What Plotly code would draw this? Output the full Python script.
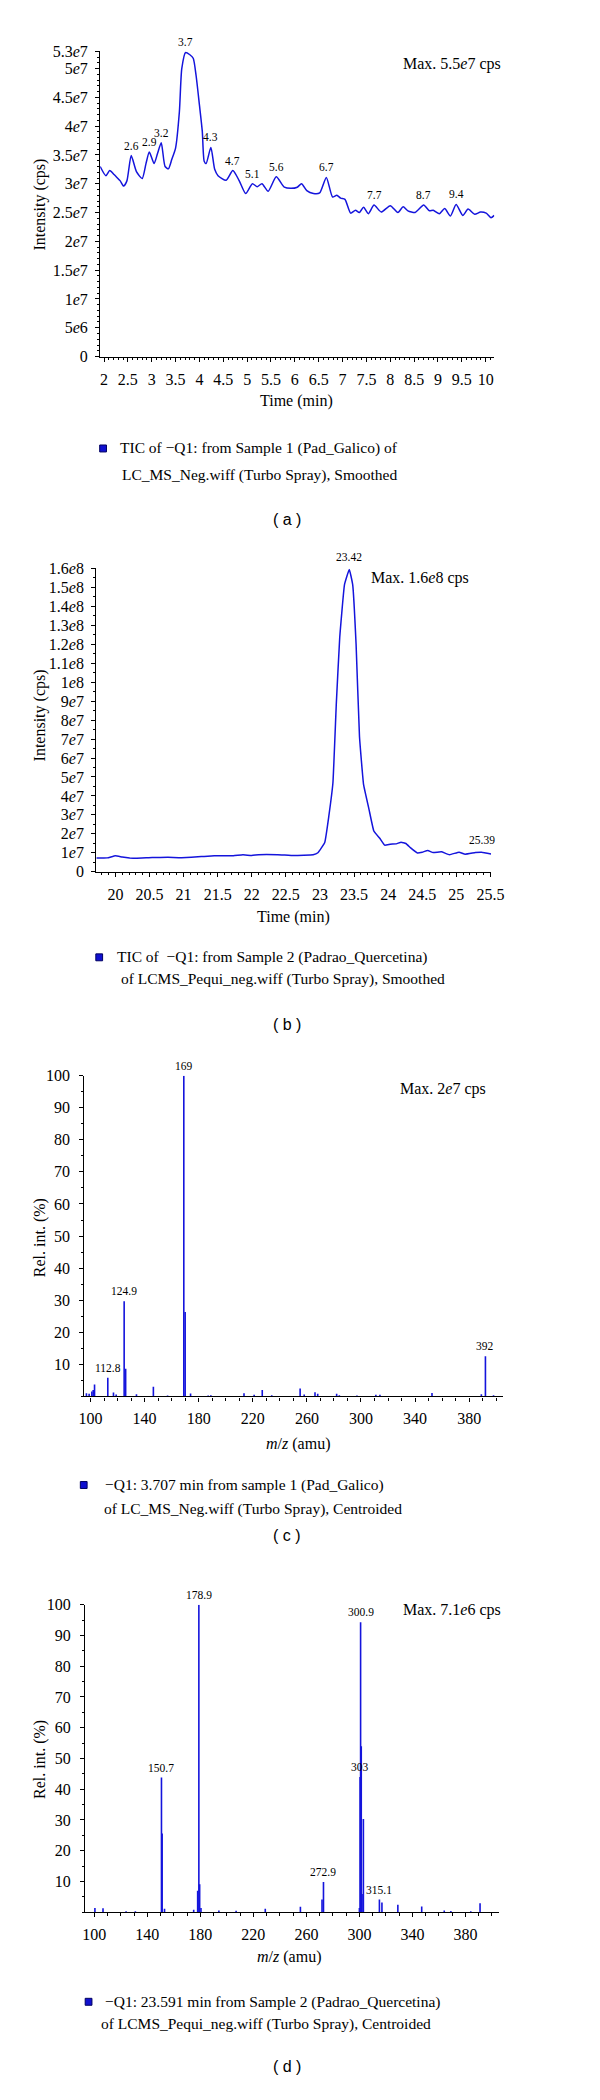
import plotly.graph_objects as go

# ---------------- data ----------------
# (a) TIC, Sample 1 (Pad_Galico)
a_time = [1.92, 2.04, 2.12, 2.21, 2.27, 2.34, 2.41, 2.48, 2.57, 2.68, 2.80, 2.88, 2.95, 3.05, 3.12,
          3.20, 3.28, 3.35, 3.42, 3.50, 3.58, 3.63, 3.71, 3.80, 3.87, 3.93, 4.00, 4.06, 4.10, 4.14,
          4.24, 4.32, 4.39, 4.56, 4.70, 4.83, 4.97, 5.11, 5.21, 5.31, 5.44, 5.61, 5.78, 5.92, 6.05,
          6.14, 6.25, 6.39, 6.52, 6.66, 6.79, 6.88, 6.96, 7.05, 7.17, 7.27, 7.35, 7.44, 7.54, 7.66,
          7.81, 8.00, 8.16, 8.27, 8.37, 8.52, 8.70, 8.82, 8.90, 9.03, 9.14, 9.26, 9.38, 9.52, 9.63,
          9.77, 9.89, 10.01, 10.11, 10.18]
a_intensity = [3.30e7, 3.14e7, 3.23e7, 3.16e7, 3.11e7, 3.05e7, 2.96e7, 3.05e7, 3.49e7, 3.21e7,
               3.09e7, 3.35e7, 3.55e7, 3.35e7, 3.52e7, 3.71e7, 3.30e7, 3.26e7, 3.42e7, 3.62e7,
               4.25e7, 5.00e7, 5.28e7, 5.24e7, 5.18e7, 4.88e7, 4.37e7, 3.91e7, 3.39e7, 3.35e7,
               3.63e7, 3.25e7, 3.14e7, 3.06e7, 3.23e7, 3.06e7, 2.83e7, 3.00e7, 2.95e7, 3.00e7,
               2.87e7, 3.12e7, 2.94e7, 2.92e7, 2.94e7, 3.00e7, 2.88e7, 2.83e7, 2.84e7, 3.11e7,
               2.77e7, 2.80e7, 2.75e7, 2.73e7, 2.49e7, 2.54e7, 2.50e7, 2.59e7, 2.48e7, 2.63e7,
               2.51e7, 2.62e7, 2.50e7, 2.60e7, 2.53e7, 2.50e7, 2.63e7, 2.53e7, 2.54e7, 2.48e7,
               2.57e7, 2.44e7, 2.64e7, 2.45e7, 2.56e7, 2.47e7, 2.51e7, 2.49e7, 2.41e7, 2.45e7]
a_peak_labels = ["2.6", "2.9", "3.2", "3.7", "4.3", "4.7", "5.1", "5.6", "6.7", "7.7", "8.7", "9.4"]
a_peak_times = [2.57, 2.95, 3.20, 3.71, 4.24, 4.70, 5.11, 5.61, 6.66, 7.66, 8.70, 9.38]
a_xtick_labels = ["2", "2.5", "3", "3.5", "4", "4.5", "5", "5.5", "6", "6.5", "7", "7.5", "8",
                  "8.5", "9", "9.5", "10"]
a_ytick_labels = ["0", "5e6", "1e7", "1.5e7", "2e7", "2.5e7", "3e7", "3.5e7", "4e7", "4.5e7",
                  "5e7", "5.3e7"]

# (b) TIC, Sample 2 (Padrao_Quercetina)
b_time = [19.72, 19.88, 20.00, 20.10, 20.21, 20.30, 20.54, 20.77, 20.97, 21.26, 21.45, 21.73,
          21.87, 22.00, 22.10, 22.38, 22.62, 22.90, 22.97, 23.07, 23.13, 23.19, 23.24, 23.29,
          23.36, 23.43, 23.48, 23.53, 23.58, 23.64, 23.72, 23.79, 23.88, 23.95, 24.03, 24.12,
          24.19, 24.26, 24.33, 24.43, 24.50, 24.58, 24.66, 24.78, 24.90, 25.04, 25.13, 25.28,
          25.37, 25.51]
b_intensity = [0.73e7, 0.73e7, 0.84e7, 0.78e7, 0.73e7, 0.71e7, 0.75e7, 0.76e7, 0.74e7, 0.80e7,
               0.84e7, 0.84e7, 0.89e7, 0.86e7, 0.90e7, 0.90e7, 0.85e7, 0.89e7, 1.00e7, 1.54e7,
               2.93e7, 4.68e7, 8.87e7, 12.36e7, 15.15e7, 15.95e7, 15.15e7, 12.00e7, 7.12e7,
               4.59e7, 3.28e7, 2.15e7, 1.75e7, 1.40e7, 1.45e7, 1.47e7, 1.56e7, 1.49e7, 1.26e7,
               0.99e7, 1.03e7, 1.12e7, 1.01e7, 1.05e7, 0.90e7, 1.03e7, 0.92e7, 1.01e7, 1.03e7,
               0.94e7]
b_peak_labels = ["23.42", "25.39"]
b_peak_times = [23.43, 25.37]
b_xtick_labels = ["20", "20.5", "21", "21.5", "22", "22.5", "23", "23.5", "24", "24.5", "25", "25.5"]
b_ytick_labels = ["0", "1e7", "2e7", "3e7", "4e7", "5e7", "6e7", "7e7", "8e7", "9e7", "1e8",
                  "1.1e8", "1.2e8", "1.3e8", "1.4e8", "1.5e8", "1.6e8"]

# (c) spectrum at 3.707 min
c_mz = [97, 99, 101, 102, 103, 112.8, 117, 119, 124.9, 126, 134, 146.5, 157, 169, 170, 174,
        187, 189, 213.5, 221, 227, 234, 255, 258, 266, 268, 282, 284, 297, 311, 314, 352.5,
        389, 392, 398]
c_rel = [1.0, 0.8, 1.5, 2.0, 3.7, 5.8, 1.2, 0.6, 29.7, 8.6, 0.7, 3.0, 0.3, 100, 26.3, 0.9,
         0.3, 0.4, 1.0, 0.5, 2.0, 0.4, 2.5, 0.6, 1.3, 0.8, 0.8, 0.4, 0.3, 0.5, 0.5, 1.1,
         0.7, 12.5, 0.4]
c_peak_labels = ["169", "124.9", "112.8", "392"]
c_peak_mz = [169, 124.9, 112.8, 392]

# (d) spectrum at 23.591 min
d_mz = [100.5, 106.6, 124, 131, 150.7, 151.2, 153, 175, 178, 178.9, 179.5, 180.5, 194, 207,
        229, 255.5, 271.8, 272.9, 300, 300.5, 300.9, 301.4, 302, 303, 315.1, 317, 329, 347,
        364, 369, 384, 391]
d_rel = [1.4, 1.3, 0.3, 0.3, 43.8, 25.6, 1.1, 0.8, 7.0, 100, 9.1, 1.4, 0.6, 0.5,
         1.1, 1.8, 4.1, 9.8, 1.4, 44.0, 94.3, 54.0, 5.9, 30.3, 4.1, 3.2, 2.4, 1.9,
         0.6, 0.4, 0.3, 2.9]
d_peak_labels = ["178.9", "300.9", "150.7", "303", "272.9", "315.1"]
d_peak_mz = [178.9, 300.9, 150.7, 300.5, 272.9, 315.1]

mz_tick_labels = ["100", "140", "180", "220", "260", "300", "340", "380"]
rel_tick_labels = ["10", "20", "30", "40", "50", "60", "70", "80", "90", "100"]

# ---------------- styling ----------------
W, H = 600, 2100
SERIF = "Liberation Serif"
SANS = "Liberation Sans"
BLUE = "#1414dc"
FS = 16


def fx(p):
    return p / W


def fy(p):
    return 1 - p / H


def etext(s):
    return s.replace("e", "<i>e</i>")


def sticks(xs, ys):
    X, Y = [], []
    for x, y in zip(xs, ys):
        X += [x, x, None]
        Y += [0, y, None]
    return X, Y


def lookup(xs, ys, x0):
    i = min(range(len(xs)), key=lambda k: abs(xs[k] - x0))
    return ys[i]


fig = go.Figure()
fig.add_trace(go.Scatter(x=a_time, y=a_intensity, mode="lines", xaxis="x", yaxis="y",
                         line=dict(color=BLUE, width=1.5, shape="spline", smoothing=0.6),
                         hoverinfo="skip"))
fig.add_trace(go.Scatter(x=b_time, y=b_intensity, mode="lines", xaxis="x2", yaxis="y2",
                         line=dict(color=BLUE, width=1.5, shape="spline", smoothing=0.3),
                         hoverinfo="skip"))
cx, cy = sticks(c_mz, c_rel)
fig.add_trace(go.Scatter(x=cx, y=cy, mode="lines", xaxis="x3", yaxis="y3",
                         line=dict(color=BLUE, width=1.6), hoverinfo="skip"))
dx, dy = sticks(d_mz, d_rel)
fig.add_trace(go.Scatter(x=dx, y=dy, mode="lines", xaxis="x4", yaxis="y4",
                         line=dict(color=BLUE, width=1.6), hoverinfo="skip"))

tickfont = dict(family=SERIF, size=FS, color="black")


def axis(**kw):
    d = dict(showline=True, linecolor="black", linewidth=1.3, ticks="outside", tickcolor="black",
             ticklen=4, tickwidth=1, showgrid=False, zeroline=False, tickfont=tickfont,
             fixedrange=True, tickmode="array")
    d.update(kw)
    return d


def minor(dt, ln=2):
    return dict(ticks="outside", ticklen=ln, tickcolor="black", tickwidth=1, dtick=dt,
                showgrid=False)


layout_axes = dict(
    xaxis=axis(domain=[fx(89), fx(496)], range=[1.92, 10.18], anchor="y",
               tickvals=[float(s) for s in a_xtick_labels], ticktext=a_xtick_labels,
               minor=minor(0.1), ticklabelstandoff=4),
    yaxis=axis(domain=[fy(343.3), fy(35.6)], range=[0, 5.3e7], anchor="x",
               tickvals=[float(s) for s in a_ytick_labels],
               ticktext=[etext(s) for s in a_ytick_labels], minor=minor(1e6),
               ticklabelstandoff=4),
    xaxis2=axis(domain=[fx(85), fx(492.7)], range=[19.72, 25.51], anchor="y2",
                tickvals=[float(s) for s in b_xtick_labels], ticktext=b_xtick_labels,
                minor=minor(0.1), ticklabelstandoff=4),
    yaxis2=axis(domain=[fy(862.7), fy(557)], range=[0, 1.6e8], anchor="x2",
                tickvals=[float(s) for s in b_ytick_labels],
                ticktext=[etext(s) for s in b_ytick_labels], minor=minor(5e6),
                ticklabelstandoff=4),
    xaxis3=axis(domain=[fx(72.7), fx(505)], range=[95.5, 405], anchor="y3",
                tickvals=[float(s) for s in mz_tick_labels], ticktext=mz_tick_labels,
                minor=minor(10, 3), ticklabelstandoff=3),
    yaxis3=axis(domain=[fy(1391.7), fy(1068.3)], range=[0, 100], anchor="x3",
                tickvals=[float(s) for s in rel_tick_labels], ticktext=rel_tick_labels,
                minor=minor(5, 2), ticklabelstandoff=6),
    xaxis4=axis(domain=[fx(73.3), fx(501)], range=[93.0, 405.4], anchor="y4",
                tickvals=[float(s) for s in mz_tick_labels], ticktext=mz_tick_labels,
                minor=minor(10, 3), ticklabelstandoff=3),
    yaxis4=axis(domain=[fy(1911.7), fy(1601.7)], range=[0, 100], anchor="x4",
                tickvals=[float(s) for s in rel_tick_labels], ticktext=rel_tick_labels,
                minor=minor(5, 2), ticklabelstandoff=6),
)

ann = []
# peak labels
for lab, t in zip(a_peak_labels, a_peak_times):
    ann.append(dict(x=t, y=lookup(a_time, a_intensity, t), xref="x", yref="y", text=lab,
                    showarrow=False, yanchor="bottom", yshift=2,
                    font=dict(family=SERIF, size=11.5, color="black")))
for lab, t in zip(b_peak_labels, b_peak_times):
    ann.append(dict(x=t, y=lookup(b_time, b_intensity, t), xref="x2", yref="y2", text=lab,
                    showarrow=False, yanchor="bottom", yshift=4,
                    font=dict(family=SERIF, size=11.5, color="black")))
for lab, m in zip(c_peak_labels, c_peak_mz):
    ann.append(dict(x=m, y=lookup(c_mz, c_rel, m), xref="x3", yref="y3", text=lab,
                    showarrow=False, yanchor="bottom", yshift=2,
                    font=dict(family=SERIF, size=11.5, color="black")))
for lab, m in zip(d_peak_labels, d_peak_mz):
    ann.append(dict(x=m, y=lookup(d_mz, d_rel, m), xref="x4", yref="y4", text=lab,
                    showarrow=False, yanchor="bottom", yshift=2,
                    font=dict(family=SERIF, size=11.5, color="black")))


def ptext(x, y, text, size=FS, family=SERIF, xanchor="center", angle=0):
    ann.append(dict(x=fx(x), y=fy(y), xref="paper", yref="paper", text=text, showarrow=False,
                    xanchor=xanchor, yanchor="middle", textangle=angle,
                    font=dict(family=family, size=size, color="black")))


# axis titles
ptext(292, 388, "Time (min)")
ptext(27, 190, "Intensity (cps)", angle=-90)
ptext(289, 908, "Time (min)")
ptext(27, 705, "Intensity (cps)", angle=-90)
ptext(293, 1440, "<i>m</i>/<i>z</i> (amu)")
ptext(27, 1232, "Rel. int. (%)", angle=-90)
ptext(284, 1957, "<i>m</i>/<i>z</i> (amu)")
ptext(27, 1758, "Rel. int. (%)", angle=-90)

# max labels
ptext(505, 48, "Max. 5.5<i>e</i>7 cps", xanchor="right")
ptext(472, 567, "Max. 1.6<i>e</i>8 cps", xanchor="right")
ptext(489, 1082, "Max. 2<i>e</i>7 cps", xanchor="right")
ptext(505, 1607, "Max. 7.1<i>e</i>6 cps", xanchor="right")

# legends
LFS = 15.5
ptext(107, 436, "TIC of −Q1: from Sample 1 (Pad_Galico) of", size=LFS, xanchor="left")
ptext(109, 463, "LC_MS_Neg.wiff (Turbo Spray), Smoothed", size=LFS, xanchor="left")
ptext(104, 949, "TIC of  −Q1: from Sample 2 (Padrao_Quercetina)", size=LFS, xanchor="left")
ptext(108, 971, "of LCMS_Pequi_neg.wiff (Turbo Spray), Smoothed", size=LFS, xanchor="left")
ptext(92, 1481, "−Q1: 3.707 min from sample 1 (Pad_Galico)", size=LFS, xanchor="left")
ptext(91, 1505, "of LC_MS_Neg.wiff (Turbo Spray), Centroided", size=LFS, xanchor="left")
ptext(92, 2002, "−Q1: 23.591 min from Sample 2 (Padrao_Quercetina)", size=LFS, xanchor="left")
ptext(88, 2024, "of LCMS_Pequi_neg.wiff (Turbo Spray), Centroided", size=LFS, xanchor="left")

# panel letters
for lab, y in [("( a )", 508), ("( b )", 1017), ("( c )", 1532), ("( d )", 2067)]:
    ptext(282, y, lab, size=16, family=SANS)

shapes = []
for (sx, sy) in [(92, 436), (88, 949), (72, 1481), (77, 2002)]:
    shapes.append(dict(type="rect", xref="paper", yref="paper",
                       x0=fx(sx - 3.5), x1=fx(sx + 3.5), y0=fy(sy + 3.5), y1=fy(sy - 3.5),
                       fillcolor="#1010d0", line=dict(color="#000060", width=1)))

fig.update_layout(width=W, height=H, margin=dict(l=0, r=0, t=0, b=0),
                  paper_bgcolor="white", plot_bgcolor="white", showlegend=False,
                  annotations=ann, shapes=shapes, **layout_axes)

fig.write_html("out.html")
